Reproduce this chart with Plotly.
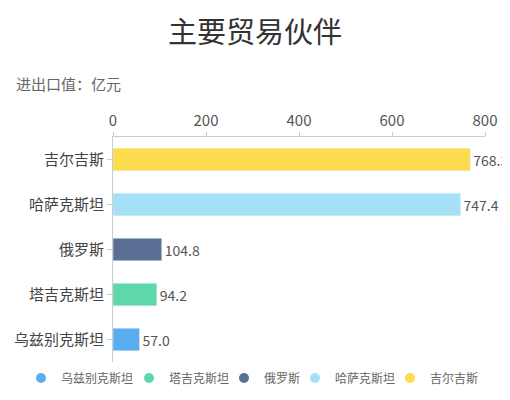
import plotly.graph_objects as go

# 数据
countries = ['乌兹别克斯坦', '塔吉克斯坦', '俄罗斯', '哈萨克斯坦', '吉尔吉斯']
values = [57.0, 94.2, 104.8, 747.4, 768.3]
colors = ['#58AEF1', '#5FD8A9', '#5A6E96', '#A6E0F7', '#FCDB4C']

font_cjk = "Noto Sans CJK SC"

# 页面 body 自带 8px 边距，所有位置都往左上挪 8px
W, H = 510, 392
plot_l, plot_t, plot_w, plot_h = 105, 129, 372, 225

# 图例圆点的横向位置（像素）
legend_px = [33, 141, 236, 307, 402]

fig = go.Figure()

# 每个国家一条柱子
for name, v, c in zip(countries, values, colors):
    fig.add_trace(go.Bar(
        y=[name], x=[v], orientation='h',
        marker_color=c, name=name, showlegend=False,
        text=[f"{v:.1f}"], textposition='outside',
        textfont=dict(size=14, color='#555555'),
        cliponaxis=False,
    ))

# 圆形图例，每项单独放一个 legend
legends = {}
for i, (name, c) in enumerate(zip(countries, colors)):
    key = 'legend' if i == 0 else f'legend{i + 1}'
    fig.add_trace(go.Scatter(
        x=[None], y=[None], mode='markers', name=name, legend=key,
        marker=dict(symbol='circle', size=10, color=c),
    ))
    legends[key] = dict(
        x=(legend_px[i] - 20 - plot_l) / plot_w, xanchor='left',
        y=-16 / plot_h, yanchor='middle', bgcolor='rgba(0,0,0,0)',
        font=dict(size=12, color='#666666'), itemwidth=30,
    )

fig.update_layout(
    width=W, height=H,
    paper_bgcolor='white', plot_bgcolor='white',
    font=dict(family=font_cjk, color='#444444'),
    title=dict(text='主要贸易伙伴', x=247 / W, xanchor='center',
               y=1 - 25 / H, yanchor='middle',
               font=dict(size=29, color='#333333', family=font_cjk)),
    margin=dict(l=plot_l, r=W - plot_l - plot_w, t=plot_t, b=H - plot_t - plot_h,
                autoexpand=False),
    barmode='overlay',
    bargap=0.5,
    showlegend=True,
    xaxis=dict(side='top', range=[0, 800], dtick=200, showgrid=False, zeroline=False,
               showline=True, linecolor='#cccccc', ticks='outside', ticklen=4, tickcolor='#cccccc',
               tickfont=dict(size=15, color='#555555'), automargin=False),
    yaxis=dict(categoryorder='array', categoryarray=countries, showgrid=False,
               showline=True, linecolor='#cccccc', ticks='outside', ticklen=5, tickcolor='#cccccc',
               tickfont=dict(size=15, color='#444444'), automargin=False),
    annotations=[dict(text='进出口值：亿元', xref='paper', yref='paper', x=(6 - plot_l) / plot_w,
                      y=1 + (plot_t - 75) / plot_h, xanchor='left', yanchor='middle',
                      showarrow=False, font=dict(size=15, color='#666666'))],
    **legends,
)

fig.write_html("out.html")
